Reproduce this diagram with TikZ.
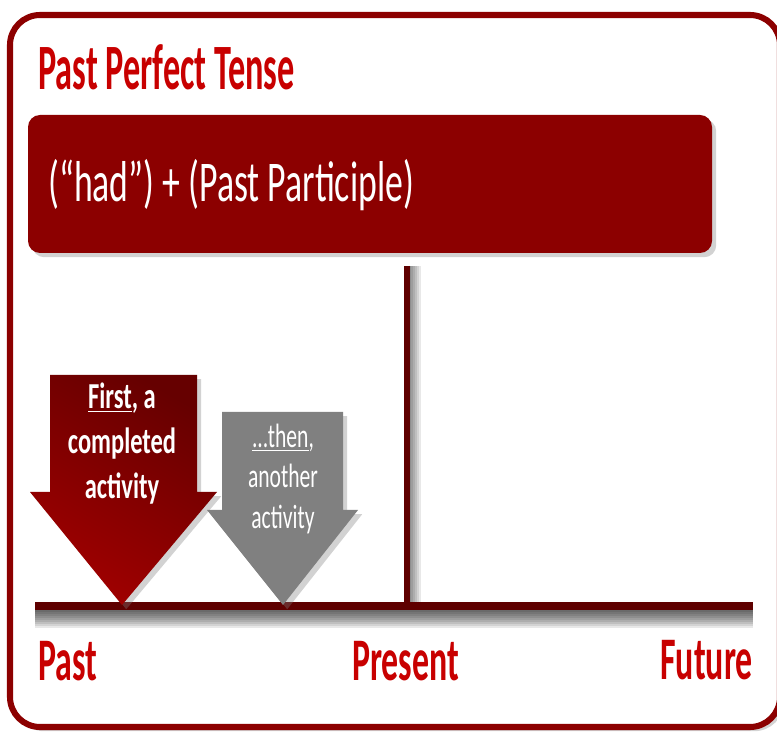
\documentclass[tikz,border=0pt]{standalone}
\usepackage{fontspec}
\setmainfont{Carlito}
\usetikzlibrary{shadows}
\definecolor{frameRed}{RGB}{140,0,0}
\definecolor{bannerRed}{RGB}{140,0,0}
\definecolor{labelRed}{RGB}{200,0,0}
\definecolor{lineRed}{RGB}{95,0,0}
\definecolor{arrowGray}{RGB}{128,128,128}
\newcommand{\narrow}[2][0.56]{\scalebox{#1}[1]{#2}}
\tikzset{
  label text/.style={text=labelRed, font=\bfseries\fontsize{43}{50}\selectfont, inner sep=0pt},
  arrow text/.style={text=white, align=center, inner sep=0pt},
  soft shadow/.style={drop shadow={opacity=0.35, shadow xshift=3pt, shadow yshift=-3pt}},
  line shadow/.style={black, fill opacity=0.09}
}
\begin{document}
\begin{tikzpicture}[x=0.025cm,y=-0.025cm]
    \useasboundingbox (0,0) rectangle (777,734);
    \clip (0,0) rectangle (777,734);
    % outer frame
    \draw[frameRed, line width=4.3pt, fill=white, rounded corners=0.75cm, soft shadow] (10,15) rectangle (780,727);
    \node[label text, anchor=base west, font=\bfseries\fontsize{46}{54}\selectfont] (title) at (38,90) {\narrow[0.53]{Past Perfect Tense}};
    % formula banner
    \fill[bannerRed, rounded corners=0.3cm, soft shadow] (28,115) rectangle (712,253);
    \node[anchor=base west, text=white, inner sep=0pt, font=\fontsize{41}{48}\selectfont] (formula) at (48,202) {\narrow[0.62]{(“had”) + (Past Participle)}};
    % now line and time line, with soft shadows
    \foreach \d in {2,4,...,12}
        \fill[line shadow] (409,266) rectangle ++(\d,337);
    \foreach \d in {2,4,...,20}
        \fill[line shadow] (35,608) rectangle ++(718,\d);
    \coordinate (nowtop) at (407,266);
    \coordinate (nowbot) at (407,603);
    \coordinate (pastend) at (35,606);
    \coordinate (futend) at (753,606);
    \draw[lineRed, line width=4.3pt] (nowtop) -- (nowbot);
    \draw[lineRed, line width=5pt] (pastend) -- (futend);
    % second activity (grey)
    \fill[arrowGray, soft shadow] (222,412) -- (343,412) -- (343,510) -- (358,510) -- (283,605) -- (207,510) -- (222,510) -- cycle;
    \node[arrow text, font=\fontsize{24}{28.5}\selectfont] (then) at (283,479) {\narrow[0.64]{\underline{...then},}\\\narrow[0.64]{another}\\\narrow[0.64]{activity}};
    % first activity (red)
    \shade[left color=red!40!black, right color=red!63!black, shading angle=-30, soft shadow] (50,375) -- (197,375) -- (197,492) -- (217,492) -- (122,605) -- (30,492) -- (50,492) -- cycle;
    \node[arrow text, font=\bfseries\fontsize{26}{32}\selectfont] (first) at (122,444) {\narrow[0.67]{\underline{First}, a}\\\narrow[0.67]{completed}\\\narrow[0.67]{activity}};
    % time labels
    \node[label text, anchor=base west] (past) at (38,680) {\narrow{Past}};
    \node[label text, anchor=base west] (present) at (352,680) {\narrow{Present}};
    \node[label text, anchor=base east] (future) at (753,679) {\narrow{Future}};
\end{tikzpicture}
\end{document}
